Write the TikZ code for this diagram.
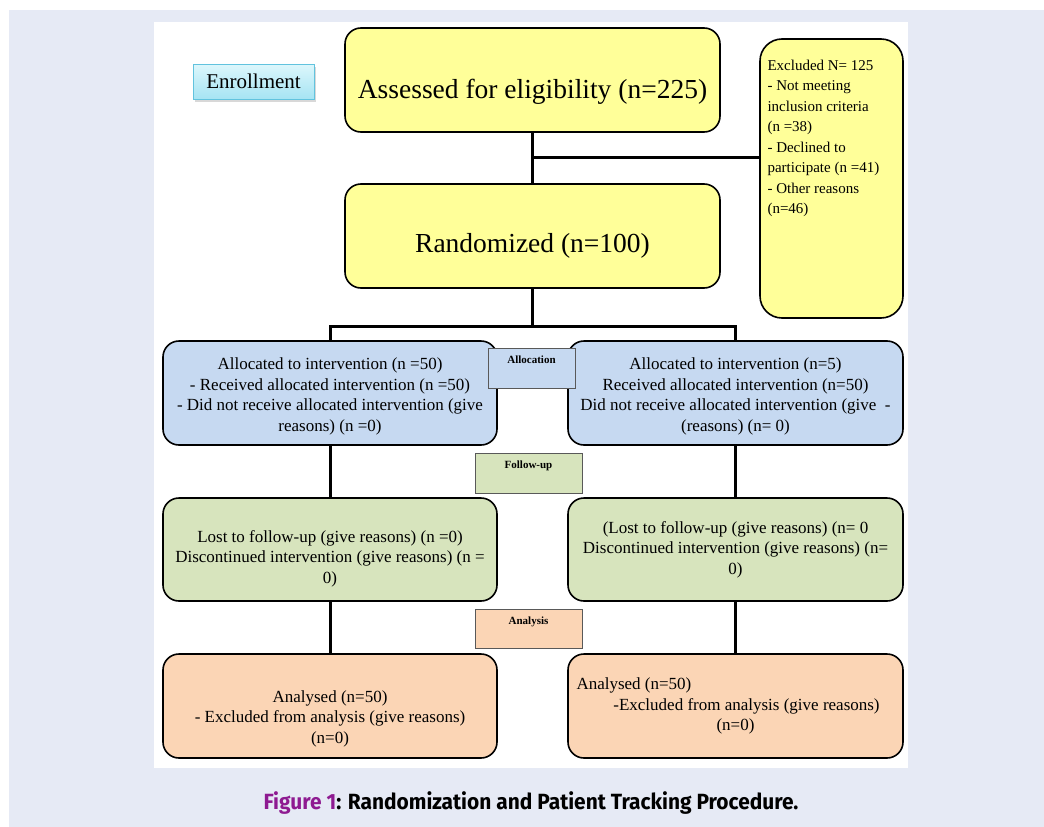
\documentclass[tikz,border=0pt]{standalone}
\usepackage{fontspec}
\setmainfont{Liberation Serif}
\newfontfamily\capfont{Fira Sans}[FakeStretch=0.95]
\usetikzlibrary{shadows}
\definecolor{panelbg}{HTML}{E6EAF5}
\definecolor{boxyellow}{HTML}{FFFF99}
\definecolor{boxblue}{HTML}{C6D9F1}
\definecolor{boxgreen}{HTML}{D7E4BD}
\definecolor{boxpeach}{HTML}{FBD5B5}
\definecolor{enrolltop}{HTML}{DDF7FC}
\definecolor{enrollbot}{HTML}{A6E4F3}
\definecolor{enrolledge}{HTML}{62C3DE}
\definecolor{figpurple}{HTML}{8E1A91}
\tikzset{
  stage/.style={draw=black, line width=1.6pt, rounded corners=16pt, align=center,
    minimum width=334pt, minimum height=104pt, font=\fontsize{17}{20.5}\selectfont},
  phase/.style={draw=black!65, line width=0.8pt, inner sep=0pt, text depth=16pt,
    minimum width=107pt, minimum height=40pt, font=\fontsize{11}{13}\selectfont\bfseries},
  link/.style={line width=3pt},
}

\begin{document}
\begin{tikzpicture}[x=1pt, y=-1pt]
\useasboundingbox (0,0) rectangle (1044,827);
\fill[panelbg] (9,10) rectangle (1044,827);
\fill[white] (154,22) rectangle (908,768);

\node (enroll) [draw=enrolledge, line width=1pt, top color=enrolltop, bottom color=enrollbot,
  minimum width=121pt, minimum height=35pt, font=\fontsize{21}{24}\selectfont,
  drop shadow={opacity=0.3, shadow xshift=2pt, shadow yshift=-3pt}] at (253.5,81.5) {Enrollment};

\node (assess) [stage, fill=boxyellow, minimum width=375pt, font=\fontsize{27.5}{30}\selectfont] at (532.5,80) {\rule{0pt}{42pt}Assessed for eligibility (n=225)};
\node (rand) [stage, fill=boxyellow, minimum width=375pt, font=\fontsize{27.5}{30}\selectfont] at (532.5,236) {\rule{0pt}{38pt}Randomized (n=100)};
\node (excl) [stage, fill=boxyellow, rounded corners=22pt, inner sep=0pt, minimum width=143pt, minimum height=279pt] at (831.5,178.5)
  {\parbox[t][237pt][t]{128pt}{\raggedright\fontsize{15}{20.5}\selectfont
   Excluded N= 125\\- Not meeting\\inclusion criteria\\(n =38)\\- Declined to\\participate (n =41)\\- Other reasons\\(n=46)}};

\node (alL) [stage, fill=boxblue] at (330,393) {\rule{0pt}{19pt}Allocated to intervention (n =50)\\- Received allocated intervention (n =50)\\- Did not receive allocated intervention (give\\reasons) (n =0)};
\node (alR) [stage, fill=boxblue, minimum width=335pt] at (735.5,393) {\rule{0pt}{19pt}Allocated to intervention (n=5)\\Received allocated intervention (n=50)\\Did not receive allocated intervention (give \ -\\(reasons) (n= 0)};

\node (fuL) [stage, fill=boxgreen, minimum height=103pt] at (330,549.5) {\rule{0pt}{30pt}Lost to follow-up (give reasons) (n =0)\\Discontinued intervention (give reasons) (n =\\0)};
\node (fuR) [stage, fill=boxgreen, minimum width=335pt, minimum height=103pt] at (735.5,549.5) {(Lost to follow-up (give reasons) (n= 0\\Discontinued intervention (give reasons) (n=\\0)};

\node (anL) [stage, fill=boxpeach] at (330,706) {\rule{0pt}{37pt}Analysed (n=50)\\- Excluded from analysis (give reasons)\\(n=0)};
\node (anR) [stage, fill=boxpeach, minimum width=335pt] at (735.5,706) {\makebox[318pt][l]{Analysed (n=50)}\\\hspace*{22pt}-Excluded from analysis (give reasons)\\(n=0)};

\coordinate (jE) at (532.5,157);
\coordinate (split) at (532.5,326);
\draw[link] (assess) -- (rand);
\draw[link] (jE) -- (excl.west |- jE);
\draw[link] (rand) -- (split);
\draw[link] (alL.north) |- (split) -| (alR.north);
\draw[link] (alL) -- (fuL);
\draw[link] (alR) -- (fuR);
\draw[link] (fuL) -- (anL);
\draw[link] (fuR) -- (anR);

\node (allocation) [phase, fill=boxblue, minimum width=87pt] at (531.5,368) {Allocation};
\node (followup) [phase, fill=boxgreen] at (528.5,473) {Follow-up};
\node (analysis) [phase, fill=boxpeach, minimum height=39pt] at (528.5,628.5) {Analysis};

\node (caption) [font=\capfont\fontsize{22}{26}\selectfont\bfseries] at (531,803)
  {\textcolor{figpurple}{Figure 1}: Randomization and Patient Tracking Procedure.};
\end{tikzpicture}
\end{document}
